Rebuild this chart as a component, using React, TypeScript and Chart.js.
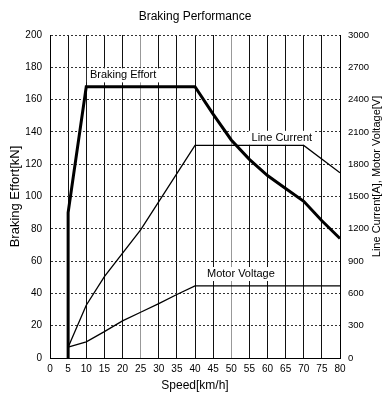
import React, { useEffect, useRef } from "react";
import { Chart, registerables } from "chart.js";

Chart.register(...registerables);

const chartTitle = "Braking Performance";
const xTitle = "Speed[km/h]";
const leftTitle = "Braking Effort[kN]";
const rightTitle = "Line Current[A], Motor Voltage[V]";

// Braking effort [kN] (left axis)
const brakingSpeed = [5, 5, 10, 40, 45, 50, 55, 60, 65, 70, 75, 80];
const brakingEffort = [0, 90, 168, 168, 151, 135, 123, 113, 105, 97, 85, 74];

// Line current [A] (right axis)
const currentSpeed = [5, 10, 15, 25, 40, 70, 80];
const lineCurrent = [100, 490, 755, 1190, 1975, 1975, 1720];

// Motor voltage [V] (right axis)
const voltageSpeed = [5, 10, 15, 20, 25, 30, 35, 40, 80];
const motorVoltage = [100, 150, 245, 345, 425, 505, 590, 670, 670];

// Inline series labels: [text, speed, value, axis]
const seriesLabels: [string, number, number, string][] = [
  ["Braking Effort", 11, 175, "y"],
  ["Line Current", 55.6, 2045, "y1"],
  ["Motor Voltage", 43.3, 780, "y1"],
];

const FONT = "'Liberation Sans', Arial, sans-serif";

const pts = (xs: number[], ys: number[]) => xs.map((x, i) => ({ x, y: ys[i] }));

const labelPlugin = {
  id: "seriesLabels",
  beforeDatasetsDraw(chart: any) {
    const ctx = chart.ctx;
    ctx.save();
    ctx.font = `11px ${FONT}`;
    ctx.textBaseline = "middle";
    ctx.textAlign = "left";
    for (const [text, sx, sy, axis] of seriesLabels) {
      const px = chart.scales.x.getPixelForValue(sx);
      const py = chart.scales[axis].getPixelForValue(sy);
      const w = ctx.measureText(text).width;
      ctx.fillStyle = "#fff";
      ctx.fillRect(px - 3, py - 7, w + 6, 14);
      ctx.fillStyle = "#000";
      ctx.fillText(text, px, py);
    }
    ctx.restore();
  },
  afterDraw(chart: any) {
    const ctx = chart.ctx;
    const area = chart.chartArea;
    ctx.save();
    ctx.font = `11px ${FONT}`;
    ctx.fillStyle = "#000";
    ctx.textAlign = "center";
    ctx.textBaseline = "middle";
    ctx.translate(377, (area.top + area.bottom) / 2 - 20);
    ctx.rotate(-Math.PI / 2);
    ctx.fillText(rightTitle, 0, 0);
    ctx.restore();
  },
};

export default function App() {
  const ref = useRef<HTMLCanvasElement>(null);
  useEffect(() => {
    document.body.style.margin = "0";
    const chart = new Chart(ref.current!, {
      type: "line",
      data: {
        datasets: [
          {
            label: "Braking Effort",
            data: pts(brakingSpeed, brakingEffort),
            yAxisID: "y",
            borderColor: "#000",
            borderWidth: 3,
            pointRadius: 0,
            tension: 0,
          },
          {
            label: "Line Current",
            data: pts(currentSpeed, lineCurrent),
            yAxisID: "y1",
            borderColor: "#000",
            borderWidth: 1.3,
            pointRadius: 0,
            tension: 0,
          },
          {
            label: "Motor Voltage",
            data: pts(voltageSpeed, motorVoltage),
            yAxisID: "y1",
            borderColor: "#000",
            borderWidth: 1.3,
            pointRadius: 0,
            tension: 0,
          },
        ],
      },
      options: {
        animation: false,
        responsive: false,
        devicePixelRatio: 1,
        layout: { padding: 0 },
        plugins: {
          legend: { display: false },
          tooltip: { enabled: false },
          title: {
            display: true,
            text: chartTitle,
            color: "#000",
            font: { family: FONT, size: 12, weight: "normal" },
            padding: { top: 9, bottom: 11.6 },
          },
        },
        scales: {
          x: {
            type: "linear",
            min: 0,
            max: 80,
            ticks: {
              stepSize: 5,
              color: "#000",
              font: { family: FONT, size: 10 },
              padding: 5,
              maxRotation: 0,
              autoSkip: false,
              callback: (v: any) => String(v),
            },
            grid: {
              drawTicks: false,
              color: (c: any) =>
                c.tick && (c.tick.value === 25 || c.tick.value === 50) ? "#999" : "#111",
              lineWidth: 1,
            },
            border: { color: "#000", width: 1 },
            title: {
              display: true,
              text: xTitle,
              color: "#000",
              font: { family: FONT, size: 12 },
              padding: { top: 0, bottom: 8 },
            },
            afterFit: (s: any) => {
              s.height = 43;
            },
          },
          y: {
            position: "left",
            min: 0,
            max: 200,
            ticks: {
              stepSize: 20,
              color: "#000",
              font: { family: FONT, size: 10 },
              padding: 8,
              callback: (v: any) => String(v),
            },
            grid: { drawTicks: false, color: "#333", lineWidth: 1 },
            border: { color: "#000", width: 1, dash: [2, 2] },
            title: {
              display: true,
              text: leftTitle,
              color: "#000",
              font: { family: FONT, size: 13 },
              padding: { top: 8, bottom: 0 },
            },
            afterFit: (s: any) => {
              s.width = 50;
            },
          },
          y1: {
            position: "right",
            min: 0,
            max: 3000,
            ticks: {
              stepSize: 300,
              color: "#000",
              font: { family: FONT, size: 9.5 },
              padding: 8,
              callback: (v: any) => String(v),
            },
            grid: { display: false, drawTicks: false },
            border: { color: "#000", width: 1 },
            afterFit: (s: any) => {
              s.width = 50;
            },
          },
        },
      },
      plugins: [labelPlugin],
    } as any);
    return () => chart.destroy();
  }, []);
  return (
    <div style={{ width: 390, height: 401 }}>
      <canvas ref={ref} width={390} height={401} style={{ display: "block" }} />
    </div>
  );
}
